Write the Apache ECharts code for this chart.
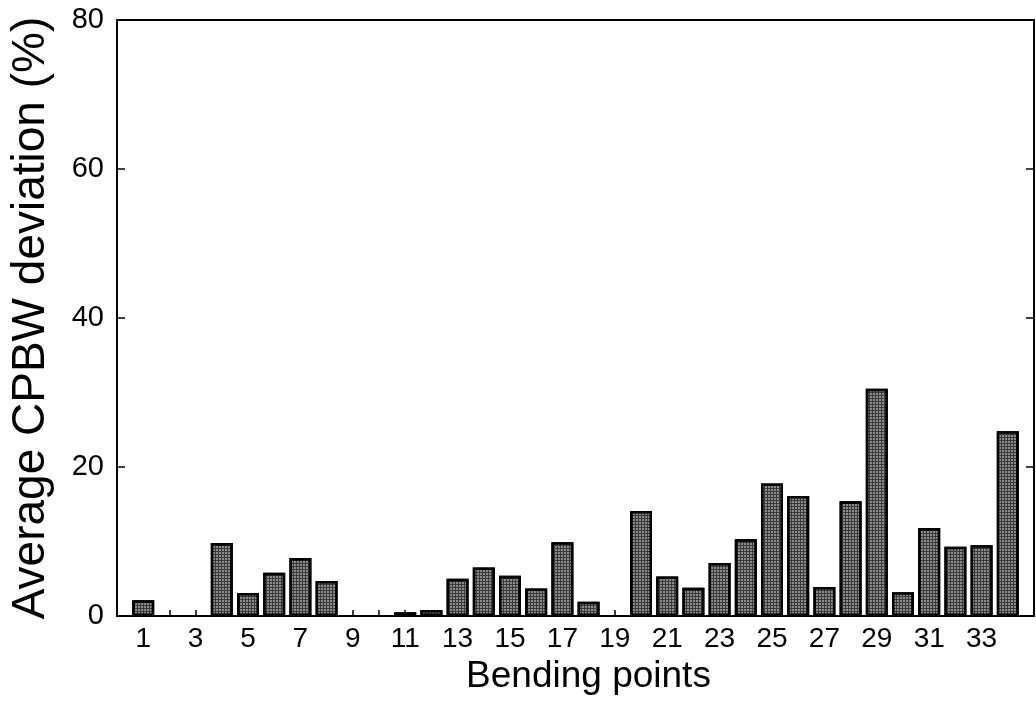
<!DOCTYPE html>
<html>
<head>
<meta charset="utf-8">
<script src="https://cdn.jsdelivr.net/npm/echarts@6/dist/echarts.min.js"></script>
<style>
html,body{margin:0;padding:0;background:#fff;}
#chart{width:1036px;height:706px;}
</style>
</head>
<body>
<div id="chart"></div>
<script>
// Data
const bendingPoints = [1,2,3,4,5,6,7,8,9,10,11,12,13,14,15,16,17,18,19,20,21,22,23,24,25,26,27,28,29,30,31,32,33,34];
const deviation = [2.1,0,0,9.8,3.1,5.8,7.8,4.7,0,0,0.5,0.8,5.0,6.5,5.4,3.7,9.9,1.9,0,14.1,5.3,3.8,7.1,10.3,17.8,16.1,3.9,15.4,30.5,3.2,11.8,9.3,9.5,24.8];
const xTickLabels = [1,3,5,7,9,11,13,15,17,19,21,23,25,27,29,31,33];
const yTicks = [0,20,40,60,80];

const FONT = '"Liberation Sans", Arial, Helvetica, sans-serif';
const chart = echarts.init(document.getElementById('chart'), null, {renderer:'canvas'});

const seriesData = bendingPoints.map((b,i) => deviation[i] > 0 ? [b, deviation[i]] : [b, null]);

chart.setOption({
  backgroundColor: '#ffffff',
  animation: false,
  grid: {left: 117, right: 2, top: 20, bottom: 90, containLabel: false},
  xAxis: [{
    type: 'value', min: 0, max: 35, position: 'bottom',
    name: 'Bending points', nameLocation: 'middle', nameGap: 37,
    nameTextStyle: {fontFamily: FONT, fontSize: 37, color: '#000', padding: [0,0,0,26]},
    axisLine: {show: true, onZero: false, lineStyle: {color: '#000', width: 2}},
    axisTick: {show: true, inside: true, length: 6, customValues: bendingPoints, lineStyle: {color: '#000', width: 1.5}},
    axisLabel: {show: true, customValues: xTickLabels, margin: 9, fontFamily: FONT, fontSize: 28, color: '#000'},
    splitLine: {show: false}
  },{
    type: 'value', min: 0, max: 35, position: 'top',
    axisLine: {show: true, onZero: false, lineStyle: {color: '#000', width: 2}},
    axisTick: {show: false}, axisLabel: {show: false}, splitLine: {show: false}
  }],
  yAxis: [{
    type: 'value', min: 0, max: 80, interval: 20, position: 'left',
    name: 'Average CPBW deviation (%)', nameLocation: 'middle', nameGap: 63, nameRotate: 90,
    nameTextStyle: {fontFamily: FONT, fontSize: 46, color: '#000'},
    axisLine: {show: true, onZero: false, lineStyle: {color: '#000', width: 2}},
    axisTick: {show: true, inside: true, length: 8, lineStyle: {color: '#000', width: 1.5}},
    axisLabel: {show: true, margin: 13, fontFamily: FONT, fontSize: 29, color: '#000',
      customValues: yTicks},
    splitLine: {show: false}
  },{
    type: 'value', min: 0, max: 80, interval: 20, position: 'right',
    axisLine: {show: true, onZero: false, lineStyle: {color: '#000', width: 2}},
    axisTick: {show: true, inside: true, length: 8, lineStyle: {color: '#000', width: 1.5}},
    axisLabel: {show: false}, splitLine: {show: false}
  }],
  series: [{
    type: 'bar',
    xAxisIndex: 0, yAxisIndex: 0,
    data: seriesData,
    barWidth: 22,
    itemStyle: {
      color: '#3a3a3a',
      borderColor: '#000',
      borderWidth: 2.5,
      decal: {
        symbol: 'rect',
        symbolSize: 0.75,
        dashArrayX: [[2, 1]],
        dashArrayY: [2, 1],
        color: 'rgba(255,255,255,0.75)',
        rotation: 0
      }
    }
  }]
});
</script>
</body>
</html>
